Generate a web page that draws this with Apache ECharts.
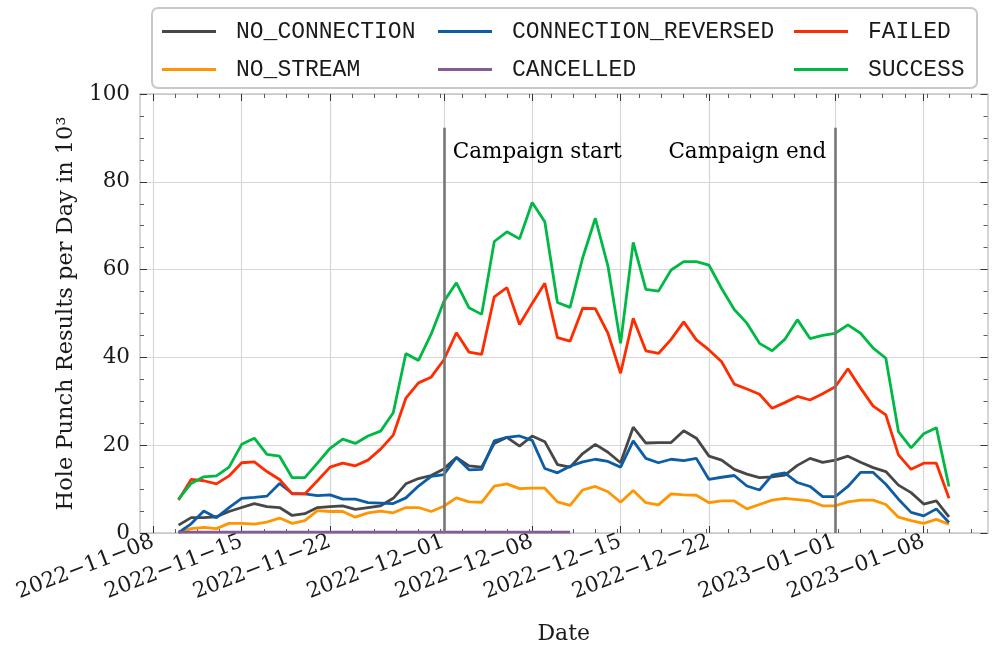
<!DOCTYPE html>
<html><head><meta charset="utf-8">
<script src="https://cdn.jsdelivr.net/npm/echarts@6/dist/echarts.min.js"></script>
<style>html,body{margin:0;padding:0;background:#fff}#c{width:997px;height:657px}</style>
</head><body><div id="c"></div>
<script>
const dates = ['2022-11-10','2022-11-11','2022-11-12','2022-11-13','2022-11-14','2022-11-15','2022-11-16','2022-11-17','2022-11-18','2022-11-19','2022-11-20','2022-11-21','2022-11-22','2022-11-23','2022-11-24','2022-11-25','2022-11-26','2022-11-27','2022-11-28','2022-11-29','2022-11-30',
'2022-12-01','2022-12-02','2022-12-03','2022-12-04','2022-12-05','2022-12-06','2022-12-07','2022-12-08','2022-12-09','2022-12-10','2022-12-11','2022-12-12','2022-12-13','2022-12-14','2022-12-15','2022-12-16','2022-12-17','2022-12-18','2022-12-19','2022-12-20','2022-12-21','2022-12-22','2022-12-23','2022-12-24','2022-12-25','2022-12-26','2022-12-27','2022-12-28','2022-12-29','2022-12-30','2022-12-31',
'2023-01-01','2023-01-02','2023-01-03','2023-01-04','2023-01-05','2023-01-06','2023-01-07','2023-01-08','2023-01-09','2023-01-10'];

const noConnection = [1.8,3.5,3.5,3.7,4.9,5.8,6.7,6.0,5.8,4.0,4.4,5.8,6.0,
 6.2,5.4,5.8,6.2,7.9,11.2,12.4,13.1,14.6,17.2,15.3,15.0,
 20.4,21.8,19.8,22.1,20.8,15.6,15.0,18.1,20.2,18.4,16.0,24.1,20.5,
 20.6,20.6,23.3,21.6,17.5,16.6,14.5,13.4,12.6,12.8,13.2,15.4,
 17.0,16.1,16.6,17.5,16.1,14.9,14.0,10.9,9.2,6.6,7.3,3.7];
const noStream = [0.2,1.0,1.3,1.0,2.2,2.2,2.0,2.5,3.4,2.2,2.8,5.1,4.9,
 4.9,3.6,4.6,5.0,4.6,5.8,5.8,4.9,6.1,8.0,7.1,7.0,
 10.7,11.2,10.1,10.2,10.2,7.1,6.3,9.8,10.6,9.4,7.0,9.7,6.9,
 6.4,8.9,8.7,8.6,6.9,7.3,7.3,5.5,6.5,7.5,7.9,7.6,
 7.3,6.2,6.2,7.1,7.5,7.5,6.5,3.6,2.8,2.2,3.1,2.0];
const connectionReversed = [0.1,2.1,5.0,3.5,5.8,7.9,8.1,8.4,11.3,9.0,8.9,8.5,8.7,
 7.7,7.7,6.9,6.8,6.7,8.0,10.7,12.9,13.3,17.2,14.4,14.5,
 21.0,21.8,22.1,21.1,14.7,13.7,15.2,16.2,16.8,16.3,15.0,21.0,17.0,
 16.0,16.8,16.5,17.0,12.2,12.7,13.1,10.7,9.8,13.2,13.7,11.5,
 10.6,8.3,8.3,10.6,13.8,13.8,11.1,7.7,4.7,3.9,5.5,2.4];
const cancelled = [0.2,0.2,0.2,0.2,0.2,0.2,0.2,0.2,0.2,0.2,0.2,0.2,0.2,0.2,0.2,0.2,
 0.2,0.2,0.2,0.2,0.2,0.2,0.2,0.2,0.2,0.2,0.2,0.2,0.2,0.2,0.2,0.2,
 null,null,null,null,null,null,null,null,null,null,null,null,null,null,null,
 null,null,null,null,null,null,null,null,null,null,null,null,null,null,null];
const failed = [7.5,12.2,11.9,11.2,13.0,16.0,16.2,14.0,12.2,8.9,8.9,11.9,15.0,
 15.9,15.3,16.6,19.1,22.3,30.7,34.2,35.5,39.4,45.6,41.2,40.7,
 53.8,55.9,47.5,52.3,56.9,44.5,43.7,51.2,51.1,45.5,36.4,48.9,41.5,
 40.9,44.1,48.1,44.0,41.7,39.0,33.9,32.8,31.6,28.4,29.7,31.1,
 30.3,31.7,33.3,37.4,33.0,28.9,26.9,17.8,14.5,15.9,15.9,7.9];
const success = [7.7,11.3,12.8,13.0,15.0,20.2,21.6,17.9,17.5,12.6,12.6,15.9,19.3,
 21.4,20.4,22.1,23.2,27.4,40.9,39.3,45.3,52.7,57.0,51.3,49.8,
 66.4,68.6,67.0,75.3,70.9,52.5,51.4,62.7,71.7,60.8,43.2,66.2,55.5,
 55.1,59.9,61.8,61.8,61.0,55.7,50.9,47.8,43.2,41.5,44.1,48.6,
 44.3,45.0,45.5,47.4,45.5,42.1,39.8,23.1,19.4,22.6,24.0,10.6];

const tickDates = ['2022-11-08','2022-11-15','2022-11-22','2022-12-01','2022-12-08','2022-12-15','2022-12-22','2023-01-01','2023-01-08'];
const yTicks = [0,20,40,60,80,100];
const campaignDates = ['2022-12-01','2023-01-01'];
const campaignLabels = ['Campaign start','Campaign end'];
const yTitle = 'Hole Punch Results per Day in 10³';
const xTitle = 'Date';

function ts(s){const p=s.split('-').map(Number);return Date.UTC(p[0],p[1]-1,p[2]);}
const DAY = 86400000;
const xMin = ts(dates[0]) - 3.05*DAY;
const xMax = ts(dates[dates.length-1]) + 3.05*DAY;
const majorTs = tickDates.map(ts);
const labelMap = {}; tickDates.forEach(d => { labelMap[ts(d)] = d.replace(/-/g,'\u2212'); });
function fmt(v){ const k = Math.round(v/DAY)*DAY; return labelMap[k] || ''; }
const minorTs = []; for (let t = ts(tickDates[0]); t <= xMax; t += 1.75*DAY) minorTs.push(t);

const SERIF = 'DejaVu Serif';
const MONO = 'Liberation Mono';
const FRAME = '#c8c8c8';
const TICK = '#333333';
const TEXT = '#1a1a1a';

function pairs(arr){ return dates.map((d,i)=>[ts(d), arr[i]]); }

const seriesDefs = [
  ['NO_CONNECTION', noConnection, '#474747'],
  ['NO_STREAM', noStream, '#FF9500'],
  ['CONNECTION_REVERSED', connectionReversed, '#0C5DA5'],
  ['CANCELLED', cancelled, '#845B97'],
  ['FAILED', failed, '#FF2C00'],
  ['SUCCESS', success, '#00B945']
];

const series = seriesDefs.map(([name, arr, color]) => ({
  name, type:'line', data: pairs(arr), symbol:'none', connectNulls:false,
  lineStyle:{color, width:2.8}, itemStyle:{color}, emphasis:{disabled:true},
  xAxisIndex:0, yAxisIndex:0, animation:false
}));
series[series.length-1].markLine = {
  symbol:['none','none'], silent:true, animation:false,
  label:{show:false},
  lineStyle:{color:'#777777', width:2.6, type:'solid'},
  emphasis:{disabled:true},
  data: campaignDates.map(d => [{coord:[ts(d),0]},{coord:[ts(d),92.3]}])
};
series.push({
  name:'campaignText', type:'scatter', symbol:'circle', symbolSize:2, silent:true, animation:false,
  itemStyle:{color:'rgba(255,255,255,0)'},
  xAxisIndex:0, yAxisIndex:0,
  label:{show:true, fontFamily:SERIF, fontSize:21.5, color:'#000', opacity:1, distance:8,
    formatter: p => campaignLabels[p.dataIndex]},
  labelLayout:{hideOverlap:false},
  data: campaignDates.map((d,i) => ({
    value:[ts(d), 86.8],
    label:{position: i===0?'right':'left', color:'#000'}
  })),
  z:5
});

const legendCommon = {
  orient:'vertical', top:15, itemWidth:54, itemHeight:3, itemGap:15, selectedMode:false,
  icon:'rect',
  textStyle:{fontFamily:MONO, fontSize:23, color:TEXT, padding:[0,0,0,15]}
};

function xAxisBase(pos){
  return {type:'value', position:pos, min:xMin, max:xMax, scale:true,
    axisLine:{show:false, onZero:false}, axisLabel:{show:false}, splitLine:{show:false}, minorTick:{show:false}};
}

const option = {
  backgroundColor:'#fff',
  animation:false,
  grid:{left:140, right:9.5, top:94, bottom:124, containLabel:false},
  graphic:[{type:'rect', z:1, shape:{x:152, y:8, width:825, height:80, r:6},
    style:{fill:'#fff', stroke:FRAME, lineWidth:2}}],
  legend:[
    Object.assign({left:157, data:['NO_CONNECTION','NO_STREAM']}, legendCommon),
    Object.assign({left:433, data:['CONNECTION_REVERSED','CANCELLED']}, legendCommon),
    Object.assign({left:789, data:['FAILED','SUCCESS']}, legendCommon)
  ],
  xAxis:[
    Object.assign(xAxisBase('bottom'), {
     axisLine:{show:true, onZero:false, lineStyle:{color:FRAME, width:1.5}},
     axisTick:{show:true, inside:true, length:7, customValues:majorTs, lineStyle:{color:TICK, width:1}},
     axisLabel:{show:true, customValues:majorTs, formatter:fmt, rotate:21, margin:8,
       fontFamily:SERIF, fontSize:21.5, color:TEXT, hideOverlap:false, showMinLabel:true, showMaxLabel:true},
     splitLine:{show:true, lineStyle:{color:'#d6d6d6', width:1.2}},
     name:xTitle, nameLocation:'middle', nameGap:90,
     nameTextStyle:{fontFamily:SERIF, fontSize:22, color:TEXT}}),
    Object.assign(xAxisBase('top'), {
     axisLine:{show:true, onZero:false, lineStyle:{color:FRAME, width:1.5}},
     axisTick:{show:true, inside:true, length:7, customValues:majorTs, lineStyle:{color:TICK, width:1}}}),
    Object.assign(xAxisBase('top'), {
     axisTick:{show:true, inside:true, length:4, customValues:minorTs, lineStyle:{color:TICK, width:0.8}}}),
    Object.assign(xAxisBase('bottom'), {
     axisTick:{show:true, inside:true, length:4, customValues:minorTs, lineStyle:{color:TICK, width:0.8}}})
  ],
  yAxis:[
    {type:'value', position:'left', min:yTicks[0], max:yTicks[yTicks.length-1], interval:yTicks[1]-yTicks[0],
     axisLine:{show:true, onZero:false, lineStyle:{color:FRAME, width:1.5}},
     axisTick:{show:true, inside:true, length:7, lineStyle:{color:TICK, width:1}},
     minorTick:{show:true, splitNumber:4, length:4, lineStyle:{color:TICK, width:0.8}},
     axisLabel:{fontFamily:SERIF, fontSize:21.5, color:TEXT, margin:10},
     splitLine:{show:true, lineStyle:{color:'#d6d6d6', width:1.2}},
     name:yTitle, nameLocation:'middle', nameGap:60,
     nameTextStyle:{fontFamily:SERIF, fontSize:22.5, color:TEXT}},
    {type:'value', position:'right', min:yTicks[0], max:yTicks[yTicks.length-1], interval:yTicks[1]-yTicks[0],
     axisLine:{show:true, onZero:false, lineStyle:{color:FRAME, width:1.5}},
     axisTick:{show:true, inside:true, length:7, lineStyle:{color:TICK, width:1}},
     minorTick:{show:true, splitNumber:4, length:4, lineStyle:{color:TICK, width:0.8}},
     axisLabel:{show:false}, splitLine:{show:false}}
  ],
  series
};
const chart = echarts.init(document.getElementById('c'), null, {renderer:'canvas'});
chart.setOption(option);
</script>
</body></html>
